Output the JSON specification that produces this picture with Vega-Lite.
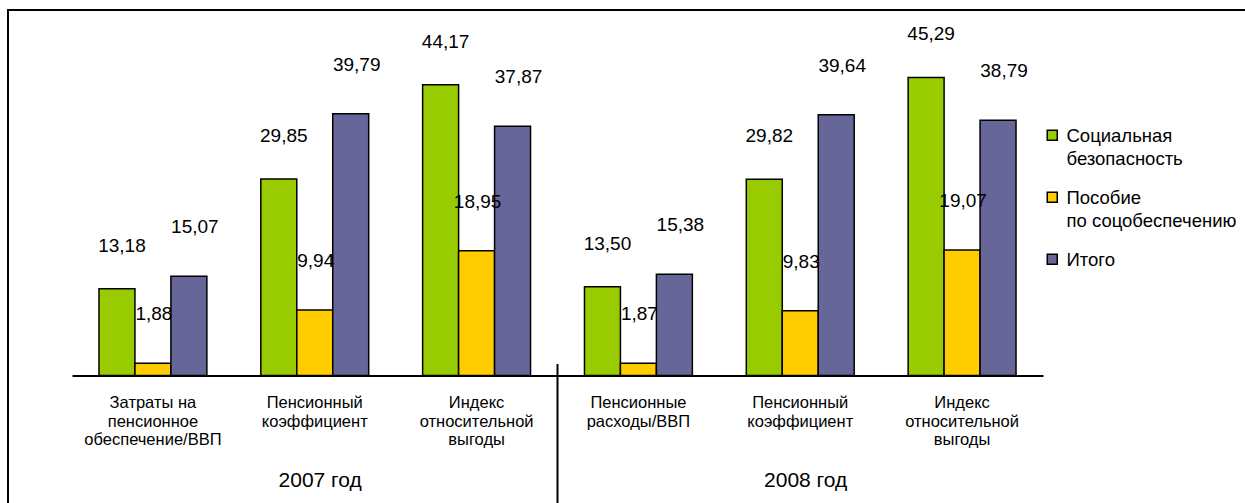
{
  "$schema": "https://vega.github.io/schema/vega-lite/v6.json",
  "width": 1300,
  "height": 600,
  "autosize": {"type": "none"},
  "padding": {"left": 8, "top": 10, "right": 0, "bottom": 0},
  "background": "white",
  "config": {
    "view": {"stroke": "black", "strokeWidth": 2},
    "font": "Liberation Sans",
    "locale": {"number": {"decimal": ",", "thousands": " ", "grouping": [3], "currency": ["", ""]}}
  },
  "datasets": {
    "bars": [
      {"group": "2007|Затраты на|пенсионное|обеспечение/ВВП", "series": "Социальная безопасность", "value": 13.18},
      {"group": "2007|Затраты на|пенсионное|обеспечение/ВВП", "series": "Пособие по соцобеспечению", "value": 1.88},
      {"group": "2007|Затраты на|пенсионное|обеспечение/ВВП", "series": "Итого", "value": 15.07},
      {"group": "2007|Пенсионный|коэффициент", "series": "Социальная безопасность", "value": 29.85},
      {"group": "2007|Пенсионный|коэффициент", "series": "Пособие по соцобеспечению", "value": 9.94},
      {"group": "2007|Пенсионный|коэффициент", "series": "Итого", "value": 39.79},
      {"group": "2007|Индекс|относительной|выгоды", "series": "Социальная безопасность", "value": 44.17},
      {"group": "2007|Индекс|относительной|выгоды", "series": "Пособие по соцобеспечению", "value": 18.95},
      {"group": "2007|Индекс|относительной|выгоды", "series": "Итого", "value": 37.87},
      {"group": "2008|Пенсионные|расходы/ВВП", "series": "Социальная безопасность", "value": 13.50},
      {"group": "2008|Пенсионные|расходы/ВВП", "series": "Пособие по соцобеспечению", "value": 1.87},
      {"group": "2008|Пенсионные|расходы/ВВП", "series": "Итого", "value": 15.38},
      {"group": "2008|Пенсионный|коэффициент", "series": "Социальная безопасность", "value": 29.82},
      {"group": "2008|Пенсионный|коэффициент", "series": "Пособие по соцобеспечению", "value": 9.83},
      {"group": "2008|Пенсионный|коэффициент", "series": "Итого", "value": 39.64},
      {"group": "2008|Индекс|относительной|выгоды", "series": "Социальная безопасность", "value": 45.29},
      {"group": "2008|Индекс|относительной|выгоды", "series": "Пособие по соцобеспечению", "value": 19.07},
      {"group": "2008|Индекс|относительной|выгоды", "series": "Итого", "value": 38.79}
    ],
    "years": [
      {"group": "2007|Пенсионный|коэффициент", "year": "2007 год"},
      {"group": "2008|Пенсионный|коэффициент", "year": "2008 год"}
    ]
  },
  "layer": [
    {
      "data": {"name": "bars"},
      "mark": {"type": "bar", "stroke": "black", "strokeWidth": 1.5},
      "encoding": {
        "x": {
          "field": "group", "type": "nominal",
          "scale": {
            "domain": ["2007|Затраты на|пенсионное|обеспечение/ВВП", "2007|Пенсионный|коэффициент", "2007|Индекс|относительной|выгоды", "2008|Пенсионные|расходы/ВВП", "2008|Пенсионный|коэффициент", "2008|Индекс|относительной|выгоды"],
            "range": [64, 1035], "paddingInner": 0.3333, "paddingOuter": 0.1667
          },
          "axis": {
            "orient": "bottom", "offset": -234.5, "title": null, "ticks": false, "grid": false,
            "domainColor": "black", "domainWidth": 2, "labelAngle": 0,
            "labelExpr": "slice(split(datum.value, '|'), 1)",
            "labelFont": "Liberation Sans", "labelFontSize": 16.5, "labelColor": "black",
            "labelPadding": 19, "labelBaseline": "top", "labelLineHeight": 18.5, "labelLimit": 0
          }
        },
        "xOffset": {
          "field": "series", "type": "nominal",
          "scale": {"domain": ["Социальная безопасность", "Пособие по соцобеспечению", "Итого"], "paddingInner": 0, "paddingOuter": 0}
        },
        "y": {
          "field": "value", "type": "quantitative",
          "scale": {"domain": [-20, 50], "range": [497.1, 36.5], "nice": false, "zero": false},
          "axis": null
        },
        "y2": {"datum": 0},
        "color": {
          "field": "series", "type": "nominal",
          "scale": {"domain": ["Социальная безопасность", "Пособие по соцобеспечению", "Итого"], "range": ["#99CC00", "#FFCC00", "#666699"]},
          "legend": {
            "title": null, "orient": "none", "legendX": 1035, "legendY": 116,
            "symbolType": "square", "symbolSize": 100, "symbolStrokeColor": "black", "symbolStrokeWidth": 1.5,
            "labelFont": "Liberation Sans", "labelFontSize": 18.5, "labelColor": "black", "labelLimit": 0,
            "labelOffset": 5, "rowPadding": 19, "labelBaseline": "alphabetic",
            "labelExpr": "indexof(datum.label, ' ') > 0 ? [substring(datum.label, 0, indexof(datum.label, ' ')), substring(datum.label, indexof(datum.label, ' ') + 1)] : datum.label",
            "encode": {"labels": {"update": {"dy": {"value": 7}, "lineHeight": {"value": 23}}}}
          }
        }
      }
    },
    {
      "data": {"name": "bars"},
      "transform": [{"filter": "datum.series === 'Социальная безопасность'"}],
      "mark": {"type": "text", "baseline": "middle", "dy": -43, "dx": 5, "font": "Liberation Sans", "fontSize": 19, "color": "black"},
      "encoding": {
        "x": {"field": "group", "type": "nominal"},
        "xOffset": {"field": "series", "type": "nominal"},
        "y": {"field": "value", "type": "quantitative"},
        "text": {"field": "value", "type": "quantitative", "format": ".2f"}
      }
    },
    {
      "data": {"name": "bars"},
      "transform": [{"filter": "datum.series === 'Пособие по соцобеспечению'"}],
      "mark": {"type": "text", "baseline": "middle", "dy": -49, "dx": 1, "font": "Liberation Sans", "fontSize": 19, "color": "black"},
      "encoding": {
        "x": {"field": "group", "type": "nominal"},
        "xOffset": {"field": "series", "type": "nominal"},
        "y": {"field": "value", "type": "quantitative"},
        "text": {"field": "value", "type": "quantitative", "format": ".2f"}
      }
    },
    {
      "data": {"name": "bars"},
      "transform": [{"filter": "datum.series === 'Итого'"}],
      "mark": {"type": "text", "baseline": "middle", "dy": -49, "dx": 6, "font": "Liberation Sans", "fontSize": 19, "color": "black"},
      "encoding": {
        "x": {"field": "group", "type": "nominal"},
        "xOffset": {"field": "series", "type": "nominal"},
        "y": {"field": "value", "type": "quantitative"},
        "text": {"field": "value", "type": "quantitative", "format": ".2f"}
      }
    },
    {
      "data": {"name": "years"},
      "mark": {"type": "text", "baseline": "middle", "font": "Liberation Sans", "fontSize": 21, "color": "black"},
      "encoding": {
        "x": {"field": "group", "type": "nominal", "bandPosition": 0.55},
        "y": {"datum": -16.1},
        "text": {"field": "year", "type": "nominal"}
      }
    },
    {
      "data": {"values": [{}]},
      "mark": {"type": "rule", "stroke": "black", "strokeWidth": 2},
      "encoding": {
        "x": {"datum": "2008|Пенсионные|расходы/ВВП", "bandPosition": -0.25},
        "y": {"datum": 1.75},
        "y2": {"datum": -25}
      }
    }
  ]
}
